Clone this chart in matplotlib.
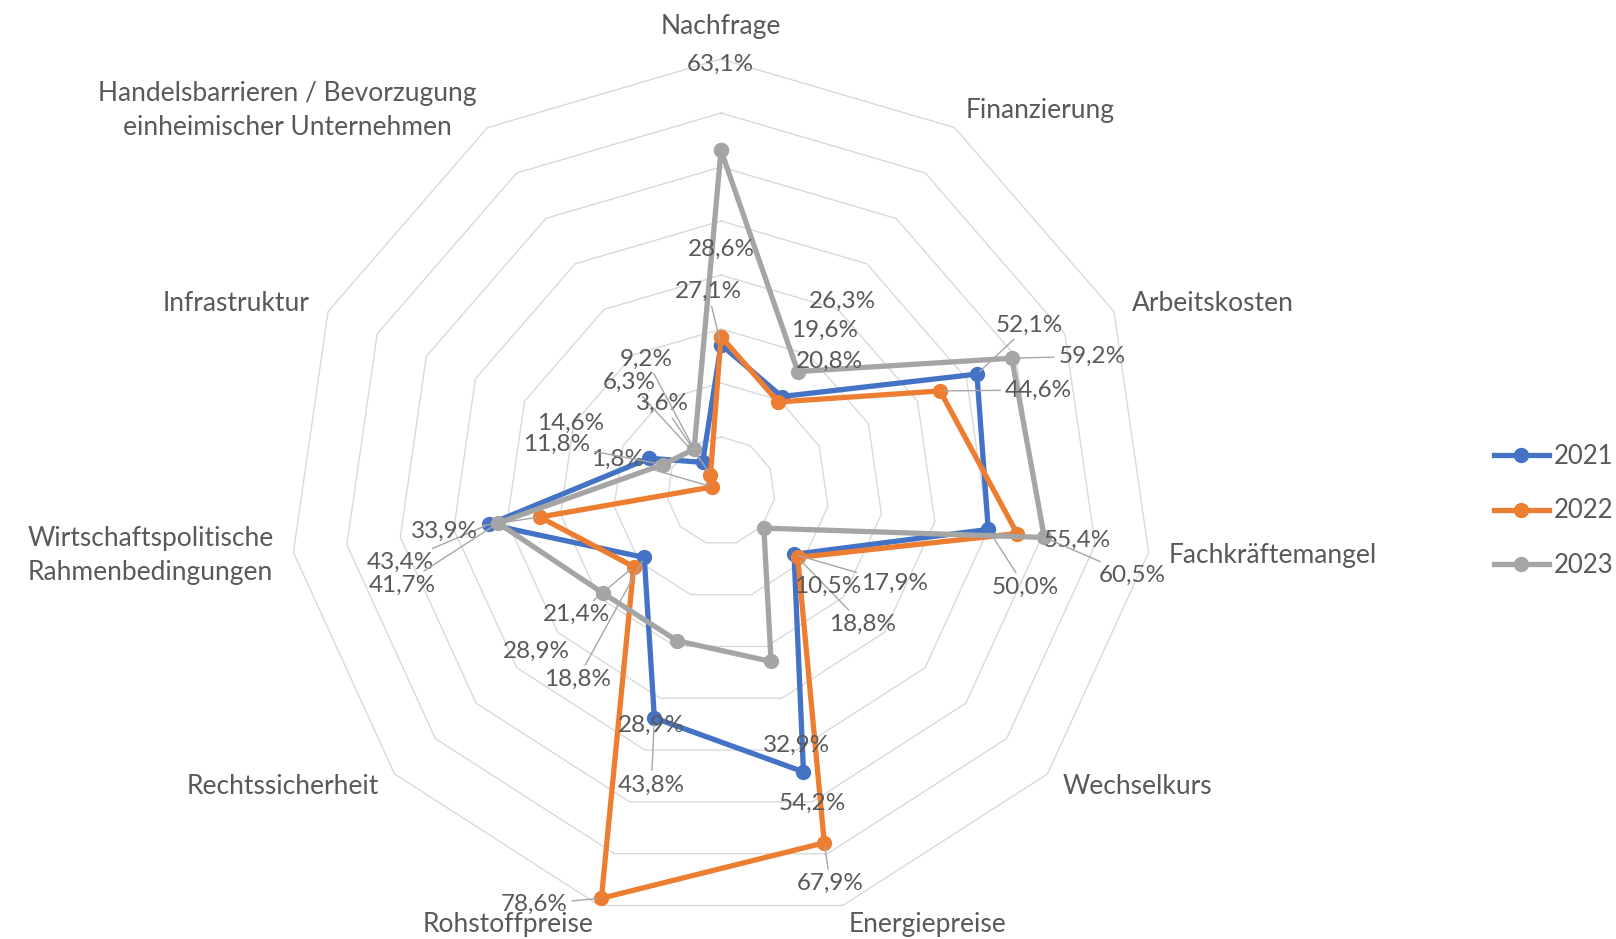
import numpy as np
import matplotlib
matplotlib.use("Agg")
import matplotlib.pyplot as plt

# ---------------- data ----------------
categories = [
    "Nachfrage", "Finanzierung", "Arbeitskosten", "Fachkräftemangel",
    "Wechselkurs", "Energiepreise", "Rohstoffpreise", "Rechtssicherheit",
    "Wirtschaftspolitische\nRahmenbedingungen", "Infrastruktur",
    "Handelsbarrieren / Bevorzugung\neinheimischer Unternehmen",
]
years = ["2021", "2022", "2023"]
v2021 = [27.1, 20.8, 52.1, 50.0, 17.9, 54.2, 43.8, 18.8, 43.4, 14.6, 6.3]
v2022 = [28.6, 19.6, 44.6, 55.4, 18.8, 67.9, 78.6, 21.4, 33.9, 1.8, 3.6]
v2023 = [63.1, 26.3, 59.2, 60.5, 10.5, 32.9, 28.9, 28.9, 41.7, 11.8, 9.2]
ring_levels = [10, 20, 30, 40, 50, 60, 70, 80]

# ---------------- layout / style ----------------
W, H = 1616, 939
CX, CY = 721, 491          # radar centre in pixels
PX_PER_UNIT = 5.4          # pixels per percentage point
colors = ["#4472C4", "#ED7D31", "#A5A5A5"]
text_color = "#595959"
FONT = "Lato"

# data-label offsets (pixels right, pixels down) and leader-line flag
off2021 = [(-13, -53, True), (48, -35, False), (52, -49, True), (37, 58, True),
           (100, 29, True), (9, 32, False), (-3, 67, True), (-67, 122, True),
           (-89, 38, True), (-79, -35, False), (-73, -80, True)]
off2022 = [(0, -87, False), (46, -72, False), (98, -1, True), (60, 7, False),
           (65, 67, True), (6, 41, True), (-67, 6, True), (-57, 48, True),
           (-95, 14, True), (-95, -28, True), (-48, -71, True)]
off2023 = [(-1, -86, False), (45, -70, False), (80, -2, True), (88, 38, True),
           (64, 58, False), (25, 84, False), (-26, 85, False), (-67, 58, False),
           (-96, 62, True), (-106, -20, True), (-48, -90, True)]

fig = plt.figure(figsize=(W / 100, H / 100), dpi=100)
ax = fig.add_axes([0, 0, 1, 1])
ax.set_xlim(-CX / PX_PER_UNIT, (W - CX) / PX_PER_UNIT)
ax.set_ylim(-(H - CY) / PX_PER_UNIT, CY / PX_PER_UNIT)
ax.axis("off")

n = len(categories)
theta = np.arange(n) * 2 * np.pi / n
sin_t, cos_t = np.sin(theta), np.cos(theta)

def to_xy(vals):
    v = np.asarray(vals, dtype=float)
    return v * sin_t, v * cos_t

# grid rings
for r in ring_levels:
    xs = np.append(r * sin_t, r * sin_t[0])
    ys = np.append(r * cos_t, r * cos_t[0])
    ax.plot(xs, ys, color="#D9D9D9", lw=1.0, zorder=1)

# series
series = [v2021, v2022, v2023]
offsets = [off2021, off2022, off2023]
handles = []
for vals, col, yr in zip(series, colors, years):
    x, y = to_xy(vals)
    h, = ax.plot(np.append(x, x[0]), np.append(y, y[0]), color=col, lw=3.8,
                 marker="o", ms=10, solid_joinstyle="round", label=yr, zorder=3)
    handles.append(h)

# data labels
for vals, offs in zip(series, offsets):
    x, y = to_xy(vals)
    for xi, yi, v, (dx, dy, leader) in zip(x, y, vals, offs):
        txt = f"{v:.1f}".replace(".", ",") + "%"
        kw = {}
        if leader:
            kw["arrowprops"] = dict(arrowstyle="-", color="#A6A6A6", lw=1.0,
                                    shrinkA=1, shrinkB=3)
        ax.annotate(txt, xy=(xi, yi), xytext=(dx, -dy), textcoords="offset pixels",
                    ha="center", va="center", fontsize=17.5, color=text_color,
                    family=FONT, zorder=5, **kw)

# category labels
R_LABEL = 452 / PX_PER_UNIT
for name, s, c in zip(categories, sin_t, cos_t):
    if s > 0.05:
        ha = "left"
    elif s < -0.05:
        ha = "right"
    else:
        ha = "center"
    va = "bottom" if c > 0.95 else "center"
    ax.text(R_LABEL * s, R_LABEL * c, name, ha=ha, va=va, multialignment="center",
            fontsize=19, color=text_color, family=FONT, linespacing=1.45)

leg = ax.legend(handles, years, loc="center left",
                bbox_to_anchor=(1494 / W, 1 - 511 / H), bbox_transform=fig.transFigure,
                frameon=False, handlelength=2.14, handletextpad=0.18,
                labelspacing=1.14, borderpad=0, borderaxespad=0,
                prop={"family": FONT, "size": 18.5})
for t in leg.get_texts():
    t.set_color(text_color)

fig.savefig("out.png", dpi=100, facecolor="white")
